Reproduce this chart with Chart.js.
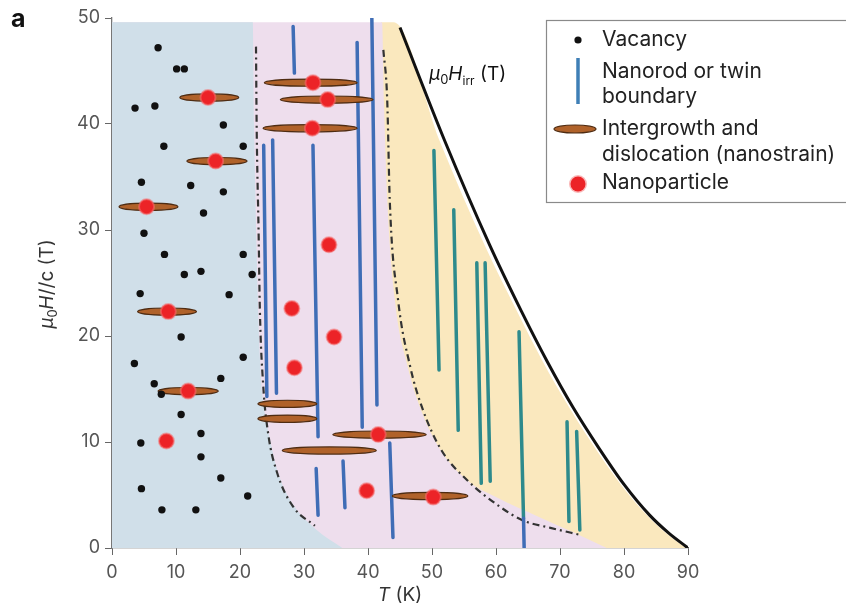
<!DOCTYPE html>
<html>
<head>
<meta charset="utf-8">
<script src="https://cdn.jsdelivr.net/npm/chart.js@4.4.1/dist/chart.umd.min.js"></script>
<style>
html, body { margin: 0; padding: 0; background: #fff; }
#wrap { width: 846px; height: 608px; }
</style>
</head>
<body>
<div id="wrap"><canvas id="phaseCanvas" width="846" height="608"></canvas></div>
<script>
const xTicks = [0, 10, 20, 30, 40, 50, 60, 70, 80, 90];
const yTicks = [0, 10, 20, 30, 40, 50];

// vacancies (black dots)
const vacancyT = [7.2, 10.1, 11.3, 3.6, 6.7, 17.4, 8.1, 20.5, 4.6, 12.3, 17.4, 14.3, 5.0, 8.2, 20.5, 11.3, 13.9, 21.9,
  4.4, 18.3, 10.8, 3.5, 20.5, 6.6, 17.0, 7.7, 10.8, 4.5, 13.9, 13.9, 17.0, 4.6, 21.2, 7.8, 13.1];
const vacancyH = [47.2, 45.2, 45.2, 41.5, 41.7, 39.9, 37.9, 37.9, 34.5, 34.2, 33.6, 31.6, 29.7, 27.7, 27.7, 25.8, 26.1, 25.8,
  24.0, 23.9, 19.9, 17.4, 18.0, 15.5, 16.0, 14.5, 12.6, 9.9, 10.8, 8.6, 6.6, 5.6, 4.9, 3.6, 3.6];

// nanoparticles (red dots)
const particleT = [15.0, 16.2, 5.4, 8.8, 11.9, 8.5, 31.4, 33.7, 31.3, 33.9, 28.1, 34.7, 28.5, 41.6, 39.8, 50.2];
const particleH = [42.5, 36.5, 32.2, 22.3, 14.8, 10.1, 43.9, 42.3, 39.6, 28.6, 22.6, 19.9, 17.0, 10.7, 5.4, 4.8];

// intergrowth / dislocation ellipses: T from, T to, field
const strainFrom = [10.6, 11.7, 1.1, 4.0, 7.2, 23.8, 26.3, 23.6, 22.8, 22.8, 34.5, 26.6, 43.8];
const strainTo = [19.8, 21.1, 10.3, 13.2, 16.6, 38.3, 40.8, 38.3, 32.0, 32.0, 49.1, 41.3, 55.6];
const strainH = [42.5, 36.5, 32.2, 22.3, 14.8, 43.9, 42.3, 39.6, 13.6, 12.2, 10.7, 9.2, 4.9];

// nanorods / twin boundaries: [T top, H top, T bottom, H bottom]
const blueRods = [[28.3, 49.2, 28.5, 44.8], [38.3, 47.7, 39.1, 11.4], [40.6, 50, 41.4, 13.5], [23.7, 38.0, 24.2, 14.3],
  [25.1, 38.5, 25.7, 14.6], [31.4, 38.0, 32.2, 10.5], [31.9, 7.5, 32.2, 3.1], [36.1, 8.2, 36.4, 3.8],
  [43.4, 9.9, 43.9, 1.0], [64.3, 2.8, 64.4, 0]];
const tealRods = [[50.3, 37.5, 51.1, 16.8], [53.4, 31.9, 54.1, 11.1], [57.0, 26.9, 57.7, 6.1], [58.3, 26.9, 59.1, 6.3],
  [63.6, 20.4, 64.3, 2.8], [71.1, 11.9, 71.4, 2.5], [72.6, 11.0, 73.1, 1.7]];

// irreversibility field
const hirrT = [45.0, 52.0, 59.0, 64.0, 68.0, 72.0, 76.0, 80.0, 84.0, 87.0, 90];
const hirrH = [49.1, 38.4, 28.6, 22.3, 17.6, 13.3, 9.5, 6.0, 3.1, 1.4, 0];

// dash-dot crossovers
const cross1T = [22.5, 22.6, 22.9, 23.1, 23.6, 24.4, 25.8, 28.3, 31.7];
const cross1H = [47.3, 40, 30, 22.6, 15.6, 10.8, 7.1, 3.9, 2.1];
const cross2T = [42.4, 43.0, 43.4, 44.7, 46.6, 48.6, 51.5, 55.5, 60.6, 64.2, 68.5, 73.4];
const cross2H = [47.0, 42.3, 32.8, 23.4, 17.1, 13.0, 9.2, 6.4, 3.9, 2.6, 1.9, 1.2];

// shaded regions (upper edges)
const blueT = [0, 22.0, 22.2, 22.6, 23.1, 23.6, 24.6, 26.0, 28.4, 31.8, 36.0];
const blueH = [49.6, 49.6, 40, 28, 18, 14, 10.5, 7.0, 4.0, 1.8, 0];
const pinkT = [0, 42.2, 42.5, 43.0, 44.2, 46.2, 48.3, 51.4, 55.5, 60.0, 66.8, 72.0, 77.3];
const pinkH = [49.6, 49.6, 42, 33, 23.4, 17.1, 13.0, 9.2, 6.4, 4.8, 2.9, 1.5, 0];
const yellowT = [42.0, 44.0, 51.2, 58.2, 63.3, 67.3, 71.4, 75.4, 79.5, 83.6, 86.6, 89.7];
const yellowH = [49.6, 49.6, 38.4, 28.6, 22.3, 17.6, 13.3, 9.5, 6.0, 3.1, 1.4, 0];

const legendLabels = [['Vacancy'], ['Nanorod or twin', 'boundary'], ['Intergrowth and', 'dislocation (nanostrain)'], ['Nanoparticle']];

const FONT = 'Inter, "Liberation Sans", sans-serif';

function pts(ts, hs) {
  return ts.map((t, i) => ({x: t, y: hs[i]}));
}
function rodPts(rods) {
  const out = [];
  rods.forEach(r => {
    out.push({x: r[0], y: r[1]}, {x: r[2], y: r[3]}, {x: r[2], y: null});
  });
  return out;
}
function region(data, color, order) {
  return {data: data, type: 'line', fill: 'origin', backgroundColor: color, borderWidth: 0,
    pointRadius: 0, cubicInterpolationMode: 'monotone', order: order};
}

function drawRuns(ctx, runs, x, y, center) {
  let total = 0;
  runs.forEach(r => { ctx.font = r[1]; total += ctx.measureText(r[0]).width; });
  let cx = center ? x - total / 2 : x;
  runs.forEach(r => {
    ctx.font = r[1];
    ctx.fillText(r[0], cx, y + (r[2] || 0));
    cx += ctx.measureText(r[0]).width;
  });
}

function drawEllipse(ctx, x1, x2, y, ry) {
  ctx.beginPath();
  ctx.ellipse((x1 + x2) / 2, y, (x2 - x1) / 2, ry, 0, 0, Math.PI * 2);
  ctx.fillStyle = '#b0622a';
  ctx.fill();
  ctx.lineWidth = 1.2;
  ctx.strokeStyle = '#4f2c12';
  ctx.stroke();
}

const strainPlugin = {
  id: 'strain',
  afterDatasetDraw(chart, args) {
    if (chart.data.datasets[args.index].id !== 'blueRods') return;
    const ctx = chart.ctx, xs = chart.scales.x, ys = chart.scales.y;
    ctx.save();
    for (let i = 0; i < strainH.length; i++) {
      drawEllipse(ctx, xs.getPixelForValue(strainFrom[i]), xs.getPixelForValue(strainTo[i]),
        ys.getPixelForValue(strainH[i]), 3.6);
    }
    ctx.restore();
  }
};

const textPlugin = {
  id: 'texts',
  afterDraw(chart) {
    const ctx = chart.ctx;
    const area = chart.chartArea;
    ctx.save();
    ctx.fillStyle = '#111';
    ctx.textBaseline = 'alphabetic';
    ctx.font = 'bold 25px ' + FONT;
    ctx.fillText('a', 11, 27);

    // x title
    ctx.fillStyle = '#333';
    drawRuns(ctx, [['T', 'italic 19px ' + FONT], [' (K)', '19px ' + FONT]], (area.left + area.right) / 2, 601, true);

    // y title
    ctx.save();
    ctx.translate(53, 284);
    ctx.rotate(-Math.PI / 2);
    drawRuns(ctx, [['μ', 'italic 19px ' + FONT], ['0', '13px ' + FONT, 4], ['H', 'italic 19px ' + FONT],
      ['//c (T)', '19px ' + FONT]], 0, 0, true);
    ctx.restore();

    // Hirr label
    ctx.fillStyle = '#111';
    drawRuns(ctx, [['μ', 'italic 19px ' + FONT], ['0', '13px ' + FONT, 4], ['H', 'italic 19px ' + FONT],
      ['irr', '12px ' + FONT, 5], [' (T)', '19px ' + FONT]], 429, 80, false);

    // legend
    ctx.strokeStyle = '#8a8a8a';
    ctx.lineWidth = 1.2;
    ctx.strokeRect(546.5, 20.5, 330, 182);
    ctx.fillStyle = '#111';
    ctx.beginPath(); ctx.arc(578, 40, 3.6, 0, Math.PI * 2); ctx.fill();
    ctx.strokeStyle = '#3f7fb6'; ctx.lineWidth = 3.5;
    ctx.beginPath(); ctx.moveTo(578, 58); ctx.lineTo(578, 104); ctx.stroke();
    drawEllipse(ctx, 554, 596, 129, 4);
    ctx.beginPath(); ctx.arc(578, 184, 9, 0, Math.PI * 2); ctx.fillStyle = 'rgba(245,110,110,0.5)'; ctx.fill();
    ctx.beginPath(); ctx.arc(578, 184, 7.5, 0, Math.PI * 2); ctx.fillStyle = '#ec2327'; ctx.fill();

    ctx.fillStyle = '#222';
    ctx.font = '21px ' + FONT;
    ctx.textBaseline = 'middle';
    const rows = [[40], [72, 97], [129, 155], [183]];
    legendLabels.forEach((lines, i) => {
      lines.forEach((s, j) => ctx.fillText(s, 602, rows[i][j]));
    });
    ctx.restore();
  }
};

const barCanvas = document.getElementById('phaseCanvas');
const phaseChart = new Chart(barCanvas, {
  type: 'line',
  data: {
    datasets: [
      {label: 'Nanoparticle', data: pts(particleT, particleH), showLine: false, pointRadius: 7.5,
        pointBackgroundColor: '#ec2327', pointBorderColor: 'rgba(245,110,110,0.55)', pointBorderWidth: 2, order: 1},
      {label: 'Vacancy', data: pts(vacancyT, vacancyH), showLine: false, pointRadius: 3.7,
        pointBackgroundColor: '#111', pointBorderWidth: 0, order: 2},
      {id: 'blueRods', label: 'Nanorod', data: rodPts(blueRods), borderColor: '#3f6db6', borderWidth: 3.5,
        pointRadius: 0, spanGaps: false, borderCapStyle: 'round', order: 4},
      {label: 'Nanorod yellow', data: rodPts(tealRods), borderColor: '#2d8a8c', borderWidth: 3.5,
        pointRadius: 0, spanGaps: false, borderCapStyle: 'round', order: 5},
      {label: 'Hirr', data: pts(hirrT, hirrH), borderColor: '#111', borderWidth: 3, pointRadius: 0,
        cubicInterpolationMode: 'monotone', order: 6},
      {label: 'cross1', data: pts(cross1T, cross1H), borderColor: '#333', borderWidth: 2.2, borderDash: [7, 4, 2, 4],
        pointRadius: 0, cubicInterpolationMode: 'monotone', order: 7},
      {label: 'cross2', data: pts(cross2T, cross2H), borderColor: '#333', borderWidth: 2.2, borderDash: [7, 4, 2, 4],
        pointRadius: 0, cubicInterpolationMode: 'monotone', order: 7},
      region(pts(blueT, blueH), 'rgb(208,223,233)', 8),
      region(pts(pinkT, pinkH), 'rgb(238,222,237)', 9),
      region(pts(yellowT, yellowH), 'rgb(250,232,190)', 10)
    ]
  },
  options: {
    responsive: false,
    animation: false,
    events: [],
    layout: {padding: {left: 0, top: 18, right: 158, bottom: 0}},
    plugins: {legend: {display: false}, tooltip: {enabled: false}},
    scales: {
      x: {
        type: 'linear', min: 0, max: 90,
        afterBuildTicks: s => { s.ticks = xTicks.map(v => ({value: v})); },
        afterFit: s => { s.height = 60; },
        grid: {drawOnChartArea: false, drawTicks: true, tickLength: 7, color: '#666'},
        border: {color: '#555', width: 1.3},
        ticks: {font: {family: FONT, size: 18}, color: '#555', padding: 7, maxRotation: 0, autoSkip: false}
      },
      y: {
        type: 'linear', min: 0, max: 50,
        afterBuildTicks: s => { s.ticks = yTicks.map(v => ({value: v})); },
        afterFit: s => { s.width = 112; },
        grid: {drawOnChartArea: false, drawTicks: true, tickLength: 7, color: '#666'},
        border: {color: '#777', width: 1.3},
        ticks: {font: {family: FONT, size: 18}, color: '#555', padding: 5, autoSkip: false}
      }
    }
  },
  plugins: [strainPlugin, textPlugin]
});
</script>
</body>
</html>
